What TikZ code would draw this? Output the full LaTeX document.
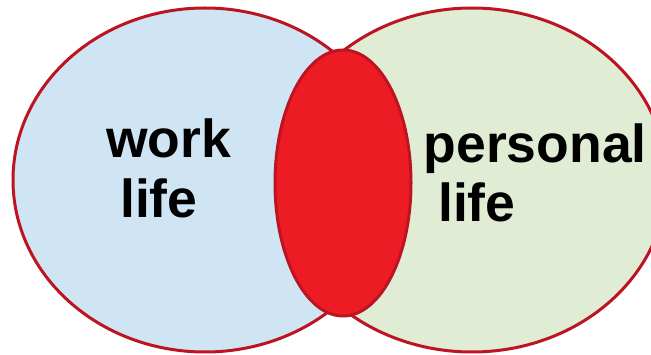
\documentclass[tikz,border=0pt]{standalone}
\usepackage{fontspec}
\setmainfont{Liberation Sans}
\definecolor{workfill}{HTML}{CFE5F3}
\definecolor{lifefill}{HTML}{E0EDD4}
\definecolor{mixfill}{HTML}{ED1C24}
\definecolor{rim}{HTML}{BC1420}
\tikzset{
  circ/.style={draw=rim, line width=3pt},
  lbl/.style={font=\fontsize{53.5}{60}\selectfont\bfseries, text=black, inner sep=0pt, anchor=base west}
}
\begin{document}
\begin{tikzpicture}[x=1pt,y=-1pt]
\useasboundingbox (0,0) rectangle (651,355);
\clip (0,0) rectangle (651,355);
\draw[circ, fill=workfill] (205,180) ellipse [x radius=192, y radius=172];
\draw[circ, fill=lifefill] (472,180) ellipse [x radius=195, y radius=172];
\draw[circ, fill=mixfill] (343,183) ellipse [x radius=68, y radius=133];
\node[lbl] (work) at (106,158) {work};
\node[lbl] (worklife) at (120,218) {life};
\node[lbl] (personal) at (423.5,163) {personal};
\node[lbl] (personallife) at (438,222) {life};
\end{tikzpicture}
\end{document}
